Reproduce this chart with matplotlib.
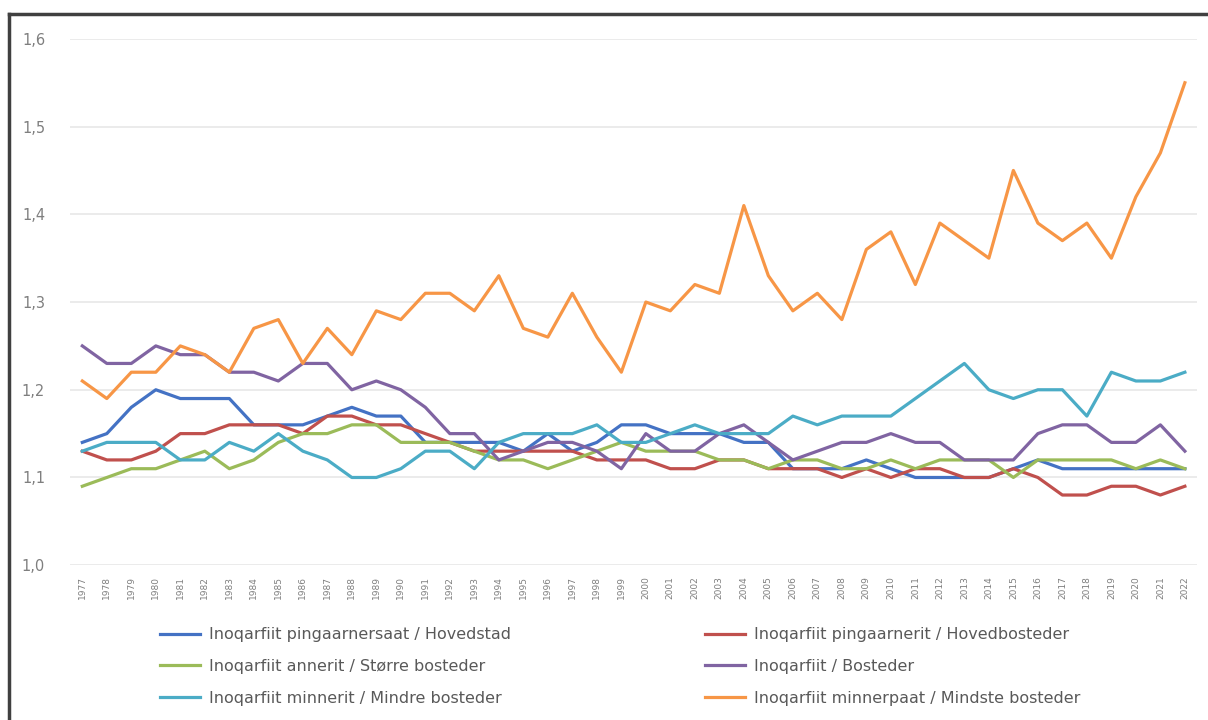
import numpy as np
import matplotlib
matplotlib.use("Agg")
import matplotlib.pyplot as plt
from matplotlib.lines import Line2D

# years on the category axis
years = list(range(1977, 2023))

# series values
hovedstad = [1.14, 1.15, 1.18, 1.20, 1.19, 1.19, 1.19, 1.16, 1.16, 1.16, 1.17, 1.18,
             1.17, 1.17, 1.14, 1.14, 1.14, 1.14, 1.13, 1.15, 1.13, 1.14, 1.16, 1.16,
             1.15, 1.15, 1.15, 1.14, 1.14, 1.11, 1.11, 1.11, 1.12, 1.11, 1.10, 1.10,
             1.10, 1.10, 1.11, 1.12, 1.11, 1.11, 1.11, 1.11, 1.11, 1.11]
hovedbosteder = [1.13, 1.12, 1.12, 1.13, 1.15, 1.15, 1.16, 1.16, 1.16, 1.15, 1.17, 1.17,
                 1.16, 1.16, 1.15, 1.14, 1.13, 1.13, 1.13, 1.13, 1.13, 1.12, 1.12, 1.12,
                 1.11, 1.11, 1.12, 1.12, 1.11, 1.11, 1.11, 1.10, 1.11, 1.10, 1.11, 1.11,
                 1.10, 1.10, 1.11, 1.10, 1.08, 1.08, 1.09, 1.09, 1.08, 1.09]
storre = [1.09, 1.10, 1.11, 1.11, 1.12, 1.13, 1.11, 1.12, 1.14, 1.15, 1.15, 1.16,
          1.16, 1.14, 1.14, 1.14, 1.13, 1.12, 1.12, 1.11, 1.12, 1.13, 1.14, 1.13,
          1.13, 1.13, 1.12, 1.12, 1.11, 1.12, 1.12, 1.11, 1.11, 1.12, 1.11, 1.12,
          1.12, 1.12, 1.10, 1.12, 1.12, 1.12, 1.12, 1.11, 1.12, 1.11]
bosteder = [1.25, 1.23, 1.23, 1.25, 1.24, 1.24, 1.22, 1.22, 1.21, 1.23, 1.23, 1.20,
            1.21, 1.20, 1.18, 1.15, 1.15, 1.12, 1.13, 1.14, 1.14, 1.13, 1.11, 1.15,
            1.13, 1.13, 1.15, 1.16, 1.14, 1.12, 1.13, 1.14, 1.14, 1.15, 1.14, 1.14,
            1.12, 1.12, 1.12, 1.15, 1.16, 1.16, 1.14, 1.14, 1.16, 1.13]
mindre = [1.13, 1.14, 1.14, 1.14, 1.12, 1.12, 1.14, 1.13, 1.15, 1.13, 1.12, 1.10,
          1.10, 1.11, 1.13, 1.13, 1.11, 1.14, 1.15, 1.15, 1.15, 1.16, 1.14, 1.14,
          1.15, 1.16, 1.15, 1.15, 1.15, 1.17, 1.16, 1.17, 1.17, 1.17, 1.19, 1.21,
          1.23, 1.20, 1.19, 1.20, 1.20, 1.17, 1.22, 1.21, 1.21, 1.22]
mindste = [1.21, 1.19, 1.22, 1.22, 1.25, 1.24, 1.22, 1.27, 1.28, 1.23, 1.27, 1.24,
           1.29, 1.28, 1.31, 1.31, 1.29, 1.33, 1.27, 1.26, 1.31, 1.26, 1.22, 1.30,
           1.29, 1.32, 1.31, 1.41, 1.33, 1.29, 1.31, 1.28, 1.36, 1.38, 1.32, 1.39,
           1.37, 1.35, 1.45, 1.39, 1.37, 1.39, 1.35, 1.42, 1.47, 1.55]

labels = ["Inoqarfiit pingaarnersaat / Hovedstad",
          "Inoqarfiit pingaarnerit / Hovedbosteder",
          "Inoqarfiit annerit / Større bosteder",
          "Inoqarfiit / Bosteder",
          "Inoqarfiit minnerit / Mindre bosteder",
          "Inoqarfiit minnerpaat / Mindste bosteder"]
colors = ["#4472C4", "#C0504D", "#9BBB59", "#8064A2", "#4BACC6", "#F79646"]
series = [hovedstad, hovedbosteder, storre, bosteder, mindre, mindste]

fig = plt.figure(figsize=(12.08, 7.2), dpi=100)
ax = fig.add_axes([0.058, 0.215, 0.933, 0.731])

x = np.arange(len(years))
lines = []
for vals, c, lab in zip(series, colors, labels):
    ln, = ax.plot(x, vals, color=c, lw=2.3, label=lab)
    lines.append(ln)

ax.set_ylim(1.0, 1.6)
ax.set_xlim(-0.5, len(years) - 0.5)
yt = [1.0, 1.1, 1.2, 1.3, 1.4, 1.5, 1.6]
ax.set_yticks(yt)
ax.set_yticklabels([("%.1f" % v).replace(".", ",") for v in yt], color="#7f7f7f", fontsize=10.5)
ax.set_xticks(x)
ax.set_xticklabels([str(y) for y in years], rotation=90, fontsize=6.5, color="#7f7f7f")
ax.tick_params(length=0, pad=8)
ax.tick_params(axis="y", pad=18)
ax.grid(axis="y", color="#e8e8e8", lw=1.2)
ax.set_axisbelow(True)
for s in ax.spines.values():
    s.set_visible(False)

# legend laid out row-wise like the original
order = [0, 2, 4, 1, 3, 5]
leg = fig.legend([lines[i] for i in order], [labels[i] for i in order], ncol=2,
                 loc="upper left", bbox_to_anchor=(0.1205, 0.149), frameon=False,
                 fontsize=11.5, handlelength=2.5, columnspacing=12.1,
                 labelspacing=1.06, handletextpad=0.6)
for t in leg.get_texts():
    t.set_color("#595959")

# screenshot frame on top and left
fig.add_artist(Line2D([0.0075, 1.0], [0.981, 0.981], color="#404040", lw=2.5))
fig.add_artist(Line2D([0.0075, 0.0075], [0.0, 0.981], color="#404040", lw=2.5))

fig.savefig("out.png", dpi=100)
